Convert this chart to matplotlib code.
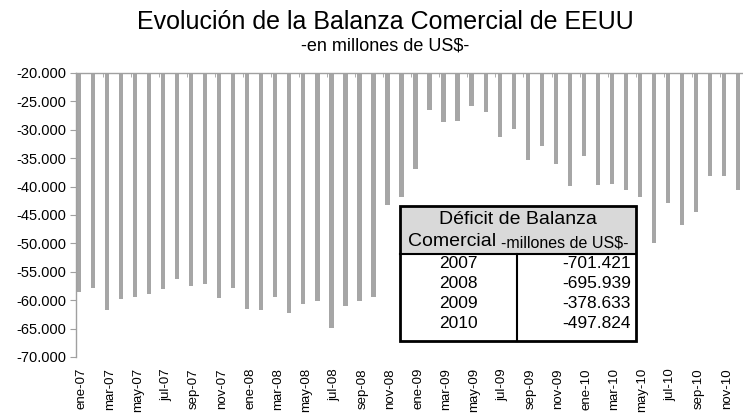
import numpy as np
import matplotlib
matplotlib.use('Agg')
import matplotlib.pyplot as plt
from matplotlib.patches import Rectangle
from matplotlib.lines import Line2D
from matplotlib.ticker import FuncFormatter

plt.rcParams['font.family'] = ['Liberation Sans', 'DejaVu Sans']

# Monthly trade balance of the US (millions of US$), ene-07 .. dic-10
meses = ['ene', 'feb', 'mar', 'abr', 'may', 'jun', 'jul', 'ago', 'sep', 'oct', 'nov', 'dic']
anios_cortos = ['07', '08', '09', '10']
etiquetas = [f'{m}-{a}' for a in anios_cortos for m in meses]

saldo_2007 = [-58600, -57900, -61700, -59800, -59400, -58900, -58000, -56300, -57500, -57200, -59600, -57900]
saldo_2008 = [-61500, -61800, -59500, -62200, -60600, -60200, -64900, -61000, -60200, -59500, -43200, -41800]
saldo_2009 = [-36900, -26600, -28700, -28400, -25800, -26900, -31200, -29900, -35300, -32900, -36100, -39900]
saldo_2010 = [-34600, -39800, -39500, -40600, -41900, -49900, -42800, -46700, -44400, -38200, -38200, -40600]
saldo = saldo_2007 + saldo_2008 + saldo_2009 + saldo_2010

# Annual deficit table
tabla_anios = ['2007', '2008', '2009', '2010']
tabla_deficit = [-701421, -695939, -378633, -497824]

BASE = -20000
W, H = 743, 420


def miles(v, pos=None):
    return f'{v:,.0f}'.replace(',', '.')


def px(x, y):
    return x / W, 1 - y / H


fig = plt.figure(figsize=(W / 100, H / 100), dpi=100)
ax = fig.add_axes([76 / W, 1 - 357 / H, (W - 76) / W, (357 - 73) / H])

x = np.arange(len(saldo))
alturas = np.array(saldo) - BASE
ax.bar(x, alturas, bottom=BASE, width=0.3, color='#A6A6A6', edgecolor='none')

ax.set_ylim(-70000, -20000)
ax.set_xlim(-0.22, 47.36)
ax.set_yticks(np.arange(-70000, -19999, 5000))
ax.yaxis.set_major_formatter(FuncFormatter(miles))
ax.tick_params(axis='y', direction='out', length=4, color='#A0A0A0', labelsize=10.5, pad=3)

ax.set_xticks(x[::2] + 0.2)
ax.set_xticklabels(etiquetas[::2], rotation=90, fontsize=9.5, va='top')
ax.set_xticks(np.arange(1.7, 47, 2), minor=True)
ax.tick_params(axis='x', which='major', bottom=True, top=False, length=0, pad=8)
ax.tick_params(axis='x', which='minor', bottom=False, top=True, direction='in',
               length=3, color='#A0A0A0')

for s in ['right', 'bottom']:
    ax.spines[s].set_visible(False)
for s in ['left', 'top']:
    ax.spines[s].set_color('#A0A0A0')
    ax.spines[s].set_linewidth(1)

# Title
fig.text(*px(385, 22), 'Evolución de la Balanza Comercial de EEUU', ha='center', va='center', fontsize=18)
fig.text(*px(385, 46), '-en millones de US$-', ha='center', va='center', fontsize=13)

# Table box
x0, x1, y0, y1 = 400, 636, 206, 341
yh, xd = 254, 517
xc = (x0 + x1) / 2
fig.patches.append(Rectangle(px(x0, y1), (x1 - x0) / W, (y1 - yh) / H,
                             transform=fig.transFigure, facecolor='white', edgecolor='none'))
fig.patches.append(Rectangle(px(x0, yh), (x1 - x0) / W, (yh - y0) / H,
                             transform=fig.transFigure, facecolor='#D9D9D9', edgecolor='none'))
fig.patches.append(Rectangle(px(x0, y1), (x1 - x0) / W, (y1 - y0) / H,
                             transform=fig.transFigure, facecolor='none', edgecolor='black', lw=2))
fig.lines.append(Line2D([x0 / W, x1 / W], [1 - yh / H, 1 - yh / H], transform=fig.transFigure,
                        color='black', lw=1.5))
fig.lines.append(Line2D([xd / W, xd / W], [1 - yh / H, 1 - y1 / H], transform=fig.transFigure,
                        color='black', lw=1.5))

fig.text(*px(xc, 220), 'Déficit de Balanza', ha='center', va='center', fontsize=14)
t1 = fig.text(*px(x0, 242), 'Comercial ', ha='left', va='center', fontsize=14)
t2 = fig.text(*px(x0, 243), '-millones de US$-', ha='left', va='center', fontsize=11.5)
fig.canvas.draw()
w1 = t1.get_window_extent().width
w2 = t2.get_window_extent().width
inicio = xc - (w1 + w2) / 2
t1.set_x(inicio / W)
t2.set_x((inicio + w1) / W)

for i, (a, d) in enumerate(zip(tabla_anios, tabla_deficit)):
    yy = 263 + i * 20
    fig.text(*px((x0 + xd) / 2, yy), a, ha='center', va='center', fontsize=12.5)
    fig.text(*px(631, yy), miles(d), ha='right', va='center', fontsize=12.5)

fig.savefig('out.png', dpi=100)
